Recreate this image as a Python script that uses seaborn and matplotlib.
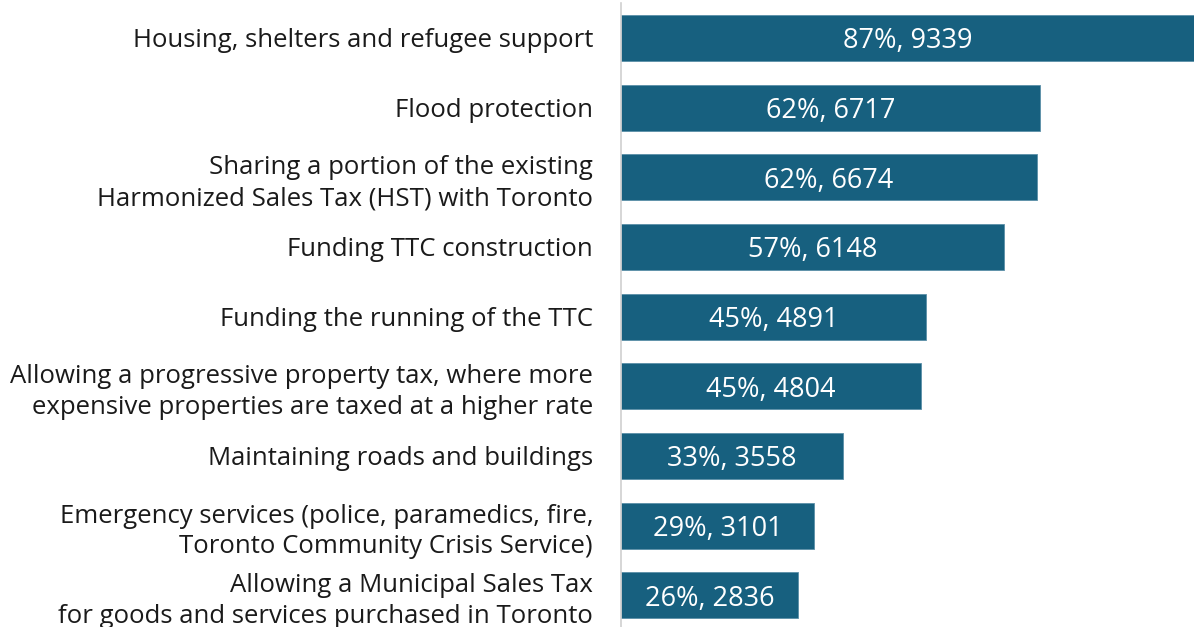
import matplotlib
matplotlib.use("Agg")
import matplotlib.pyplot as plt
import seaborn as sns
import pandas as pd

categories = [
    "Housing, shelters and refugee support",
    "Flood protection",
    "Sharing a portion of the existing\nHarmonized Sales Tax (HST) with Toronto",
    "Funding TTC construction",
    "Funding the running of the TTC",
    "Allowing a progressive property tax, where more\nexpensive properties are taxed at a higher rate",
    "Maintaining roads and buildings",
    "Emergency services (police, paramedics, fire,\nToronto Community Crisis Service)",
    "Allowing a Municipal Sales Tax\nfor goods and services purchased in Toronto",
]
percents = [87, 62, 62, 57, 45, 45, 33, 29, 26]
counts = [9339, 6717, 6674, 6148, 4891, 4804, 3558, 3101, 2836]

BAR_COLOR = "#17607F"

sns.set_theme(style="white")
plt.rcParams["font.family"] = ["Open Sans", "DejaVu Sans"]

df = pd.DataFrame({"category": categories, "count": counts, "pct": percents})

fig = plt.figure(figsize=(11.94, 6.27), dpi=100)
ax = fig.add_axes([0.520, -0.005, 0.480, 1.0])

sns.barplot(data=df, y="category", x="count", orient="h", color=BAR_COLOR,
            width=0.66, edgecolor="#5b8fa8", linewidth=0.6, ax=ax, saturation=1)

ax.set_xlim(0, 9186)
ax.set_ylim(8.5, -0.5)
ax.set_xlabel("")
ax.set_ylabel("")
ax.set_xticks([])
ax.tick_params(axis="y", length=0, pad=20, labelsize=18.5, labelcolor="#1a1a1a")
for lbl in ax.get_yticklabels():
    lbl.set_horizontalalignment("right")
    lbl.set_multialignment("right")
    lbl.set_linespacing(1.3)

for side in ["top", "right", "bottom"]:
    ax.spines[side].set_visible(False)
ax.spines["left"].set_color("#d0d0d0")
ax.spines["left"].set_linewidth(1.2)

xmax = ax.get_xlim()[1]
for i, (c, p) in enumerate(zip(counts, percents)):
    visible = min(c, xmax)
    ax.text(visible / 2, i, f"{p}%, {c}", ha="center", va="center_baseline",
            color="white", fontsize=19.5)

fig.savefig("out.png", dpi=100)
